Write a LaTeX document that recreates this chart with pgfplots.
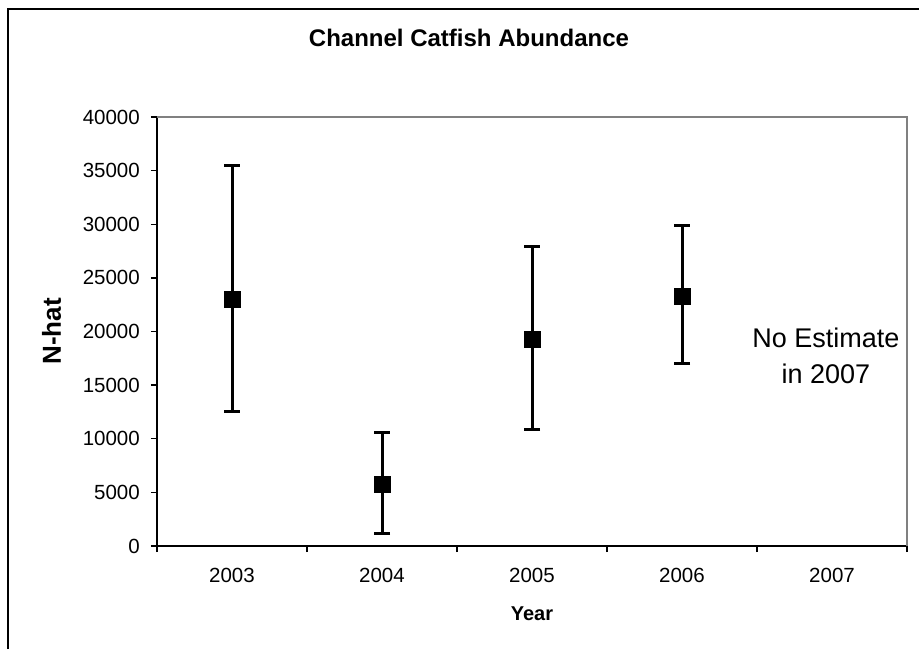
\documentclass[border=0pt]{standalone}
\usepackage{fontspec}
\setmainfont{Liberation Sans}
\usepackage{pgfplots}
\usepackage{pgfplotstable}
\pgfplotsset{compat=1.18}
\pgfplotstableread{
x y ep em
0 23000 12500 10500
1 5800 4800 4600
2 19300 8600 8400
3 23300 6600 6300
}\catfish
\begin{document}
\begin{tikzpicture}[x=1pt,y=1pt]
\path[use as bounding box] (0,0) rectangle (919,-649);
\draw[line width=1.3pt] (8,-649) -- (8,-9) -- (919,-9);
\begin{axis}[
  at={(157pt,-546pt)}, anchor=south west,
  scale only axis, width=750pt, height=429pt,
  xmin=-0.5, xmax=4.5, ymin=0, ymax=40000,
  axis lines*=left,
  axis line style={line width=1.5pt, black},
  xtick={0,1,2,3,4}, xticklabels={2003,2004,2005,2006,2007},
  minor xtick={-0.5,0.5,1.5,2.5,3.5,4.5},
  major x tick style={draw=none},
  minor tick length=6pt, major tick length=6pt,
  tick align=outside,
  tick style={line width=1.3pt, black},
  ytick={0,5000,...,40000},
  scaled y ticks=false,
  /pgf/number format/assume math mode=true,
  yticklabel style={/pgf/number format/1000 sep={}, font=\fontsize{20.5}{24}\selectfont, anchor=east, inner sep=0pt, xshift=-11pt},
  xticklabel style={font=\fontsize{20.5}{24}\selectfont, anchor=base, yshift=-30pt},
  title={Channel Catfish Abundance},
  title style={font=\bfseries\fontsize{24}{28}\selectfont, at={(axis description cs:0.416,1.1515)}, anchor=base},
  xlabel={Year},
  xlabel style={font=\bfseries\fontsize{20}{24}\selectfont, at={(axis description cs:0.5,-0.1725)}, anchor=base},
  ylabel={N-hat},
  ylabel style={font=\bfseries\fontsize{26}{30}\selectfont, at={(axis description cs:-0.128,0.5)}, anchor=base, rotate=0},
  clip=false,
]
\draw[gray, line width=1.5pt] (rel axis cs:0,1) -- (rel axis cs:1,1) -- (rel axis cs:1,0);
\addplot[black, line width=3pt, only marks, mark=square*, mark size=8pt,
  mark options={line width=0.5pt},
  error bars/.cd, y dir=both, y explicit,
  error bar style={line width=3pt, black},
  error mark options={rotate=90, mark size=8pt, line width=3pt, black}]
  table[x=x, y=y, y error plus=ep, y error minus=em]{\catfish};
\node[font=\fontsize{27}{36}\selectfont, align=center] at (axis cs:3.96,17700) {No Estimate\\in 2007};
\end{axis}
\end{tikzpicture}
\end{document}
